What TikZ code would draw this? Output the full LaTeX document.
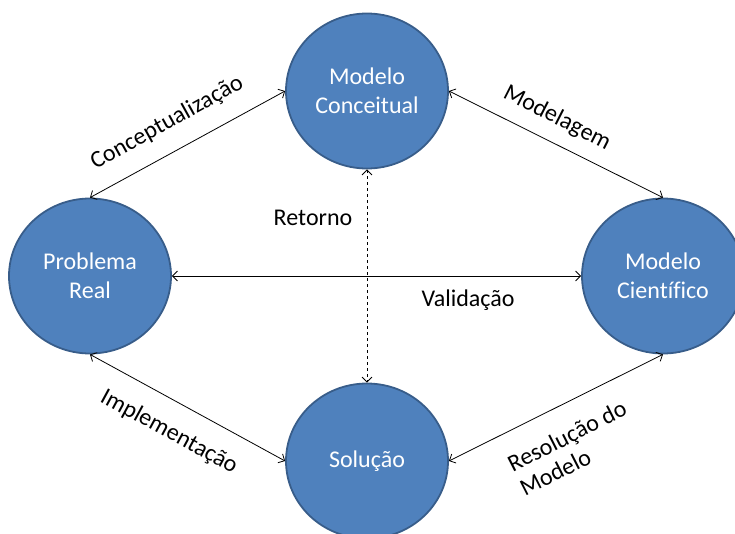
\documentclass[tikz,border=0pt]{standalone}
\usepackage{fontspec}
\setmainfont{Carlito}[Ligatures={NoCommon}]
\usetikzlibrary{shapes.geometric,arrows.meta}
\definecolor{nodeblue}{HTML}{4F81BD}
\definecolor{nodeborder}{HTML}{385D8A}
\tikzset{
  stage/.style={ellipse, draw=nodeborder, line width=1.8pt, fill=nodeblue,
    minimum width=162pt, minimum height=155pt, inner sep=0pt,
    text=white, align=center, font=\fontsize{24}{29}\selectfont},
  link/.style={black, line width=0.8pt, {Straight Barb[length=5pt,width=10pt]}-{Straight Barb[length=5pt,width=10pt]}},
  lbl/.style={black, align=left, font=\fontsize{24}{27}\selectfont, inner sep=0pt}
}
\begin{document}
\begin{tikzpicture}[x=1pt,y=-1pt]
\useasboundingbox (0,0) rectangle (735,533);
\node[stage] (mc) at (367,91) {Modelo\\Conceitual};
\node[stage] (pr) at (90,276) {Problema\\Real};
\node[stage] (mci) at (663,276) {Modelo\\Científico};
\node[stage] (sol) at (367,461) {Solução};
\draw[link] (pr.north) -- (mc.west);
\draw[link] (mc.east) -- (mci.north);
\draw[link] (pr.east) -- (mci.west);
\draw[link, dashed, line width=0.8pt] (mc.south) -- (sol.north);
\draw[link] (pr.south) -- (sol.west);
\draw[link] (sol.east) -- (mci.south);
\node[lbl, rotate=29] (l1) at (167,123) {Conceptualização};
\node[lbl, rotate=-27] (l2) at (557,118) {Modelagem};
\node[lbl, rotate=-28.5] (l3) at (169,432) {Implementação};
\node[lbl, rotate=27] (l4) at (573,448) {Resolução do\\Modelo};
\node[lbl] (l5) at (313,218) {Retorno};
\node[lbl] (l6) at (468,300) {Validação};
\end{tikzpicture}
\end{document}
